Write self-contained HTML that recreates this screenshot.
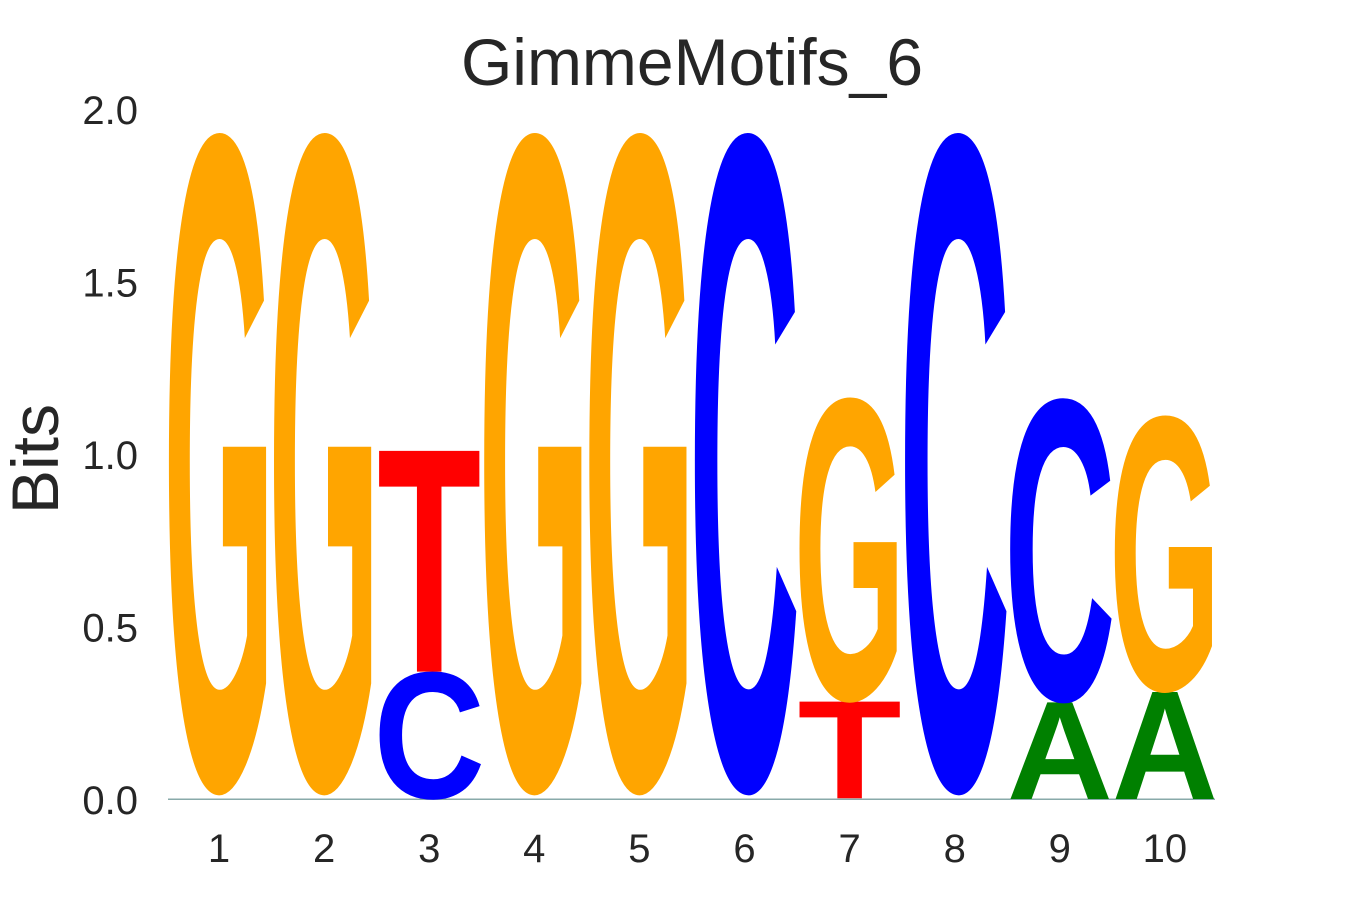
<!DOCTYPE html>
<html><head><meta charset="utf-8"><style>
html,body{margin:0;padding:0;background:#fff;overflow:hidden;width:1350px;height:900px;}
svg{display:block;overflow:hidden;}
svg text{font-family:"Liberation Sans",sans-serif;}
</style></head><body>
<svg id="chart" width="1350" height="900" viewBox="0 0 1350 900" xmlns="http://www.w3.org/2000/svg">
<defs><clipPath id="frame"><rect x="0" y="0" width="1350" height="900"/></clipPath></defs>
<text x="692" y="85" font-size="66" text-anchor="middle" fill="#262626">GimmeMotifs_6</text>
<text transform="translate(58,459) rotate(-90)" font-size="66" text-anchor="middle" fill="#262626">Bits</text>
<g id="yticks"></g>
<g id="xticks"></g>
<g id="letters" clip-path="url(#frame)"></g>
</svg>
<script>
const positions = [1,2,3,4,5,6,7,8,9,10];
// stacks bottom to top: [letter, bits]
const stackLetters = [["G"],["G"],["C","T"],["G"],["G"],["C"],["T","G"],["C"],["A","C"],["A","G"]];
const stackBits = [[1.91],[1.91],[0.37,0.64],[1.91],[1.91],[1.91],[0.28,0.88],[1.91],[0.28,0.88],[0.31,0.80]];
const stackStart = [0.02,0.02,0.002,0.02,0.02,0.02,0.005,0.02,0.003,0.003];
const yTicks = [0,0.5,1.0,1.5,2.0];
const yTickLabels = ["0.0","0.5","1.0","1.5","2.0"];
const colors = {G:"#FFA500",C:"#0000FF",T:"#FF0000",A:"#008000"};
const inkTop = {G:69.7,C:69.7,T:68.8,A:68.8};
const inkBot = {G:-0.74,C:-0.74,T:0,A:0};
const tLen = {G:112,C:112,T:104,A:106};
const NS="http://www.w3.org/2000/svg";
const y = v => 800 - v*345;
const x = p => 219 + (p-1)*105.1;
const yt=document.getElementById('yticks');
yTicks.forEach((v,i)=>{
  const t=document.createElementNS(NS,'text');
  
  
  t.setAttribute('x',138);t.setAttribute('y',y(v)+14);
  t.setAttribute('font-size','40');t.setAttribute('text-anchor','end');t.setAttribute('fill','#262626');
  t.textContent=yTickLabels[i];yt.appendChild(t);
});
const xt=document.getElementById('xticks');
positions.forEach(p=>{
  const t=document.createElementNS(NS,'text');
  
  
  t.setAttribute('x',x(p));t.setAttribute('y',862);
  t.setAttribute('font-size','40');t.setAttribute('text-anchor','middle');t.setAttribute('fill','#262626');
  t.textContent=String(p);xt.appendChild(t);
});
const lg=document.getElementById('letters');
const base=document.createElementNS(NS,'rect');


base.setAttribute('x',168);base.setAttribute('y',798.5);base.setAttribute('width',1047);base.setAttribute('height',1.5);base.setAttribute('fill','#8aa');
lg.appendChild(base);
positions.forEach((p,i)=>{
  let cum=stackStart[i];
  stackLetters[i].forEach((L,j)=>{
    const h=stackBits[i][j];
    const bottom=y(cum), top=y(cum+h);
    const sy=(bottom-top)/(inkTop[L]-inkBot[L]);
    const baseY=bottom + inkBot[L]*sy;
    const t=document.createElementNS(NS,'text');
    
    
    t.setAttribute('x',0);t.setAttribute('y',0);
    t.setAttribute('font-size','100');t.setAttribute('font-weight','bold');
    t.setAttribute('text-anchor','middle');
    t.setAttribute('textLength',String(tLen[L]));t.setAttribute('lengthAdjust','spacingAndGlyphs');
    t.setAttribute('fill',colors[L]);
    t.setAttribute('transform','translate('+x(p)+','+baseY+') scale(1,'+sy+')');
    t.textContent=L;lg.appendChild(t);
    cum+=h;
  });
});
</script>
</body></html>
